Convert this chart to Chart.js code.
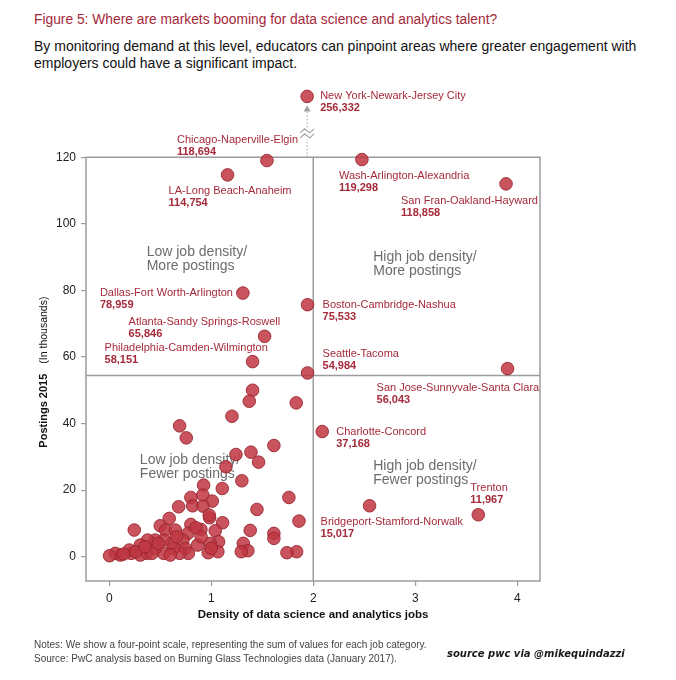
<!DOCTYPE html>
<html>
<head>
<meta charset="UTF-8">
<title>Figure 5</title>
<script src="https://cdn.jsdelivr.net/npm/chart.js@4.4.0/dist/chart.umd.min.js"></script>
<style>
    body {
        margin: 0;
        width: 676px;
        height: 680px;
        position: relative;
        overflow: hidden;
        background: #ffffff;
        font-family: "Liberation Sans", Arial, sans-serif;
    }
    #chartCanvas { position: absolute; left: 0; top: 0; }
    .fig-title { position: absolute; left: 34px; top: 12px; font-size: 13.8px; color: #a3283a; white-space: nowrap; }
    .fig-sub { position: absolute; left: 34px; top: 38px; font-size: 14px; line-height: 17px; color: #111; white-space: nowrap; }
    .notes { position: absolute; left: 34px; top: 638px; font-size: 10px; line-height: 14px; color: #444; }
    .credit { position: absolute; left: 447px; top: 648px; font: italic bold 10px "DejaVu Sans", sans-serif; color: #1a1a1a; }
</style>
</head>
<body>

<div class="fig-title">Figure 5: Where are markets booming for data science and analytics talent?</div>
<div class="fig-sub">By monitoring demand at this level, educators can pinpoint areas where greater engagement with<br>employers could have a significant impact.</div>
<canvas id="chartCanvas" width="676" height="680"></canvas>
<div class="notes">Notes: We show a four-point scale, representing the sum of values for each job category.<br>Source: PwC analysis based on Burning Glass Technologies data (January 2017).</div>
<div class="credit">source pwc via @mikequindazzi</div>

<script>

// unlabeled metro areas (density, postings in thousands)
var clusterDensity = [
    1.405, 1.373, 1.833, 0.69, 0.755, 1.203, 1.242, 1.389, 1.614, 1.464,
    1.144, 1.30, 1.108, 0.925, 0.918, 1.01, 0.80, 0.817, 0.68, 0.918,
    1.448, 1.761, 1.86, 0.245, 0.588, 0.5, 0.552, 0.647, 0.80, 0.984,
    1.111, 1.039, 0.899, 1.382, 1.614, 1.614, 1.837, 1.742, 1.314, 1.359,
    1.294, 1.072, 0.99, 1.065, 0.97, 0.866, 0.771, 0.722, 0.745, 0.775,
    0.69, 0.63, 0.614, 0.533, 0.533, 0.451, 0.451, 0.376, 0.369, 0.304,
    0.304, 0.216, 0.196, 0.108, 0.059, 0.003, 0.598, 0.98, 0.85, 0.42,
    0.26, 0.14, 0.48, 0.66, 0.90, 1.00, 0.35
];
var clusterPostings = [
    50, 46.7, 46.2, 39.3, 35.7, 42.2, 30.7, 31.4, 33.4, 28.4,
    27, 22.8, 20.5, 21.5, 18.5, 16.7, 17.8, 15.3, 15, 15.2,
    14.2, 17.8, 10.7, 8, 11.5, 9.3, 8, 8, 9.7, 11.7,
    10.2, 7.8, 8.2, 7.9, 7, 5.5, 1.5, 1.2, 4, 1.8,
    1.5, 4.5, 4, 1.5, 1.2, 3.5, 7, 5, 2.5, 1,
    1, 2.5, 4.2, 5, 1, 2.5, 5, 5, 1, 3.5,
    0.5, 1, 2, 0.5, 1, 0.3, 0.5, 12.5, 8.7, 1.0,
    1.5, 0.8, 4, 6, 6, 2.5, 3
];

// labelled metro areas
var metroNames = [
    'New York-Newark-Jersey City', 'Chicago-Naperville-Elgin', 'LA-Long Beach-Anaheim',
    'Wash-Arlington-Alexandria', 'San Fran-Oakland-Hayward', 'Dallas-Fort Worth-Arlington',
    'Boston-Cambridge-Nashua', 'Atlanta-Sandy Springs-Roswell', 'Philadelphia-Camden-Wilmington',
    'Seattle-Tacoma', 'San Jose-Sunnyvale-Santa Clara', 'Charlotte-Concord',
    'Bridgeport-Stamford-Norwalk', 'Trenton'
];
var metroPostings = [256332, 118694, 114754, 119298, 118858, 78959, 75533, 65846, 58151, 54984, 56043, 37168, 15017, 11967];
var metroDensity = [1.94, 1.546, 1.16, 2.477, 3.89, 1.31, 1.944, 1.523, 1.405, 1.944, 3.905, 2.088, 2.552, 3.618];
var metroPlotted = [256.332, 119, 114.7, 119.3, 112, 79.2, 75.7, 66.2, 58.6, 55.2, 56.5, 37.6, 15.3, 12.6];

// quadrant split and texts
var densitySplit = 2;
var postingsSplit = 54.4;
var postingsTop = 120;
var quadrantLines = [
    ['Low job density/', 'More postings'],
    ['High job density/', 'More postings'],
    ['Low job density/', 'Fewer postings'],
    ['High job density/', 'Fewer postings']
];
var yTicks = [0, 20, 40, 60, 80, 100, 120];
var xTicks = [0, 1, 2, 3, 4];

// layout (pixels / data anchors) - kept apart from the data
var labelOffsets = [
    [13, 0], [-90, -21], [-59, 16], [-23, 16], [-105, 17], [-143, 0], [15, 0],
    [-136, -14], [-148, -14], [15, -19], [-131, 19], [14, 0], [-49, 16], [-8, -27]
];
var quadrantAnchors = [[0.367, 91.4], [2.588, 90.1], [0.30, 29.0], [2.588, 27.2]];
var axisBreak = { at: 120, squeeze: 0.134 };

function shownPostings(v) {
    return v <= axisBreak.at ? v : axisBreak.at + (v - axisBreak.at) * axisBreak.squeeze;
}

var RED_FILL = 'rgba(192, 56, 66, 0.86)';
var RED_LINE = 'rgba(150, 34, 46, 0.85)';
var LABEL_RED = '#a52a3a';
var FONT = '"Liberation Sans", Arial, sans-serif';

var quadrantPlugin = {
    id: 'quadrants',
    beforeDatasetsDraw: function(chart) {
        var ctx = chart.ctx, a = chart.chartArea;
        var x = chart.scales.x, y = chart.scales.y;
        var top = y.getPixelForValue(postingsTop);
        ctx.save();
        ctx.strokeStyle = '#9c9c9c';
        ctx.lineWidth = 1.5;
        ctx.strokeRect(a.left, top, a.right - a.left, a.bottom - top);
        var mx = x.getPixelForValue(densitySplit), my = y.getPixelForValue(postingsSplit);
        ctx.beginPath();
        ctx.moveTo(mx, top); ctx.lineTo(mx, a.bottom);
        ctx.moveTo(a.left, my); ctx.lineTo(a.right, my);
        ctx.stroke();

        // quadrant captions (behind the points)
        ctx.fillStyle = '#6c6c6c';
        ctx.font = '14px ' + FONT;
        ctx.textBaseline = 'middle';
        ctx.textAlign = 'left';
        quadrantLines.forEach(function(lines, i) {
            var px = x.getPixelForValue(quadrantAnchors[i][0]);
            var py = y.getPixelForValue(quadrantAnchors[i][1]);
            lines.forEach(function(t, k) { ctx.fillText(t, px, py + k * 14); });
        });

        // broken-axis pointer for the outlier
        var ny = chart.getDatasetMeta(1).data[0];
        var tip = ny.y + 9;
        var brk = (top + tip) / 2 + 2;
        ctx.strokeStyle = '#a0a0a0';
        ctx.lineWidth = 1;
        ctx.setLineDash([1.5, 2]);
        ctx.beginPath();
        ctx.moveTo(ny.x, top); ctx.lineTo(ny.x, brk + 6);
        ctx.moveTo(ny.x, brk - 6); ctx.lineTo(ny.x, tip + 5);
        ctx.stroke();
        ctx.setLineDash([]);
        ctx.fillStyle = '#a0a0a0';
        ctx.beginPath();
        ctx.moveTo(ny.x, tip); ctx.lineTo(ny.x - 3.5, tip + 6); ctx.lineTo(ny.x + 3.5, tip + 6);
        ctx.closePath();
        ctx.fill();
        ctx.lineWidth = 1.1;
        [-2.5, 2.5].forEach(function(o) {
            ctx.beginPath();
            ctx.moveTo(ny.x - 7, brk + o + 2);
            ctx.lineTo(ny.x - 2.5, brk + o - 2);
            ctx.lineTo(ny.x + 2.5, brk + o + 2);
            ctx.lineTo(ny.x + 7, brk + o - 2);
            ctx.stroke();
        });
        ctx.restore();
    },
    afterDatasetsDraw: function(chart) {
        var ctx = chart.ctx;
        var pts = chart.getDatasetMeta(1).data;
        ctx.save();
        ctx.fillStyle = LABEL_RED;
        ctx.textBaseline = 'middle';
        ctx.textAlign = 'left';
        metroNames.forEach(function(name, i) {
            var p = pts[i];
            var lx = p.x + labelOffsets[i][0], ly = p.y + labelOffsets[i][1];
            ctx.font = '11px ' + FONT;
            ctx.fillText(name, lx, ly);
            ctx.font = 'bold 11px ' + FONT;
            ctx.fillText(metroPostings[i].toLocaleString('en-US'), lx, ly + 12);
        });
        ctx.restore();
    },
    afterDraw: function(chart) {
        var ctx = chart.ctx, a = chart.chartArea;
        var top = chart.scales.y.getPixelForValue(postingsTop);
        ctx.save();
        ctx.fillStyle = '#111';
        ctx.textBaseline = 'middle';
        // x title
        ctx.textAlign = 'center';
        ctx.font = 'bold 11.5px ' + FONT;
        ctx.fillText('Density of data science and analytics jobs', (a.left + a.right) / 2, a.bottom + 34);
        // y title, bold part + normal part
        ctx.translate(44, (top + a.bottom) / 2 + 3);
        ctx.rotate(-Math.PI / 2);
        ctx.textAlign = 'left';
        ctx.font = 'bold 11px ' + FONT;
        var t1 = 'Postings 2015', t2 = '(In thousands)';
        var w1 = ctx.measureText(t1).width;
        ctx.font = '10.5px ' + FONT;
        var w2 = ctx.measureText(t2).width;
        var start = -(w1 + 10 + w2) / 2;
        ctx.font = 'bold 11px ' + FONT;
        ctx.fillText(t1, start, 0);
        ctx.font = '10.5px ' + FONT;
        ctx.fillText(t2, start + w1 + 10, 0);
        ctx.restore();
    }
};

var clusterData = clusterDensity.map(function(d, i) { return { x: d, y: clusterPostings[i] }; });
var metroData = metroDensity.map(function(d, i) { return { x: d, y: shownPostings(metroPlotted[i]) }; });

var pointStyle = {
    pointRadius: 6.3,
    backgroundColor: RED_FILL,
    borderColor: RED_LINE,
    borderWidth: 1,
    clip: false
};

new Chart(document.getElementById('chartCanvas'), {
    type: 'scatter',
    data: {
        datasets: [
            Object.assign({ label: 'Other metro areas', data: clusterData }, pointStyle),
            Object.assign({ label: 'Named metro areas', data: metroData }, pointStyle)
        ]
    },
    options: {
        responsive: false,
        animation: false,
        layout: { padding: { top: 74, right: 136, left: 0, bottom: 0 } },
        plugins: {
            legend: { display: false },
            tooltip: { enabled: false },
            title: { display: false }
        },
        scales: {
            x: {
                type: 'linear',
                min: -0.228,
                max: 4.223,
                afterFit: function(s) { s.height = 99; },
                afterBuildTicks: function(s) { s.ticks = xTicks.map(function(v) { return { value: v }; }); },
                ticks: { font: { size: 12, family: FONT }, color: '#222', padding: 5 },
                grid: { drawOnChartArea: false, drawTicks: true, tickLength: 5, color: '#9c9c9c', lineWidth: 1.2 },
                border: { display: false }
            },
            y: {
                type: 'linear',
                min: -7.3,
                max: 145,
                afterFit: function(s) { s.width = 86; },
                afterBuildTicks: function(s) { s.ticks = yTicks.map(function(v) { return { value: v }; }); },
                ticks: { font: { size: 12, family: FONT }, color: '#222', padding: 5 },
                grid: { drawOnChartArea: false, drawTicks: true, tickLength: 5, color: '#9c9c9c', lineWidth: 1.2 },
                border: { display: false }
            }
        }
    },
    plugins: [quadrantPlugin]
});

</script>
</body>
</html>
